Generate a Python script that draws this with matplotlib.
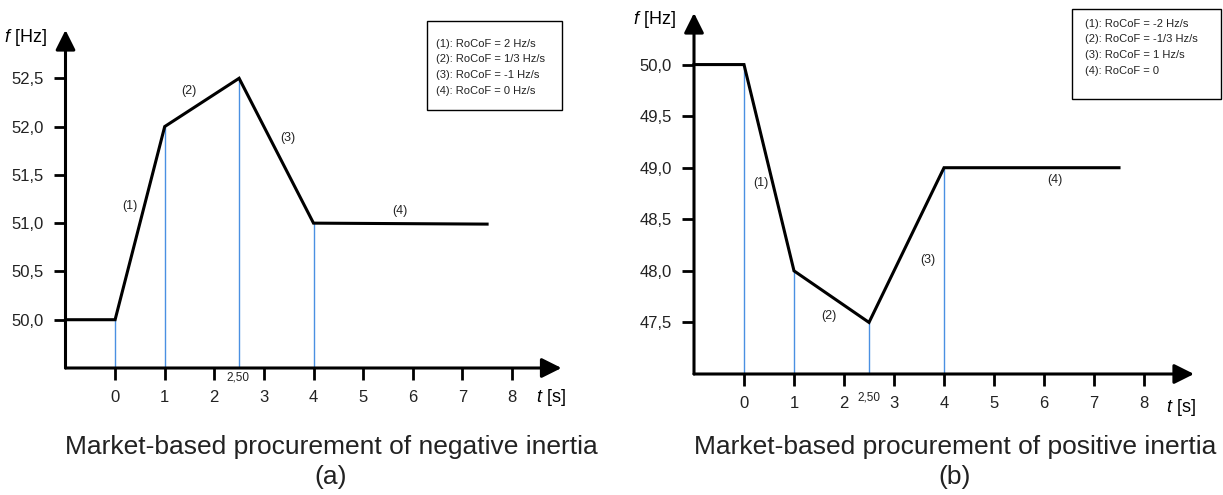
"""Frequency response under market-based inertia procurement"""

import matplotlib
matplotlib.use("Agg")
import matplotlib.pyplot as plt
import matplotlib.patches as patches

plt.rcParams['font.family'] = ['Liberation Sans', 'DejaVu Sans']
plt.rcParams['mathtext.fontset'] = 'custom'
plt.rcParams['mathtext.rm'] = 'Liberation Sans'
plt.rcParams['mathtext.it'] = 'Liberation Sans:italic'

# Frequency trajectories (t in s, f in Hz)
t_neg = [-1, 0, 1, 2.5, 4, 7.5]
f_neg = [50.0, 50.0, 52.0, 52.5, 51.0, 50.99]
t_pos = [-1, 0, 1, 2.5, 4, 7.5]
f_pos = [50.0, 50.0, 48.0, 47.5, 49.0, 49.0]

# Breakpoints marked with vertical guide lines
t_marks = [0, 1, 2.5, 4]

x_ticks = [0, 1, 2, 3, 4, 5, 6, 7, 8]
y_ticks_neg = [50.0, 50.5, 51.0, 51.5, 52.0, 52.5]
y_ticks_pos = [47.5, 48.0, 48.5, 49.0, 49.5, 50.0]

seg_labels = ['(1)', '(2)', '(3)', '(4)']
seg_pos_neg = [(0.29, 51.18), (1.48, 52.37), (3.48, 51.88), (5.74, 51.13)]
seg_pos_pos = [(0.34, 48.85), (1.70, 47.56), (3.68, 48.11), (6.22, 48.88)]

legend_neg = ['(1): RoCoF = 2 Hz/s', '(2): RoCoF = 1/3 Hz/s',
              '(3): RoCoF = -1 Hz/s', '(4): RoCoF = 0 Hz/s']
legend_pos = ['(1): RoCoF = -2 Hz/s', '(2): RoCoF = -1/3 Hz/s',
              '(3): RoCoF = 1 Hz/s', '(4): RoCoF = 0']

captions = ['Market-based procurement of negative inertia',
            'Market-based procurement of positive inertia']
sublabels = ['(a)', '(b)']

W, H = 1223, 495
fig = plt.figure(figsize=(W / 100, H / 100), dpi=100)

BLUE = '#4a90e2'


def fx(px):
    return px / W


def fy(py):
    return 1 - py / H


def draw_panel(ax, t, f, ylim, yticks, seg_pos):
    ax.set_xlim(-1, 9)
    ax.set_ylim(*ylim)
    for s in ax.spines.values():
        s.set_visible(False)

    # axes drawn as arrows
    arrow = dict(arrowstyle='-|>,head_length=0.6,head_width=0.3', color='black',
                 lw=2.2, mutation_scale=20, shrinkA=0, shrinkB=0)
    ax.annotate('', xy=(1, 0), xytext=(0, 0), xycoords='axes fraction',
                textcoords='axes fraction', arrowprops=arrow, annotation_clip=False)
    ax.annotate('', xy=(0, 1), xytext=(0, 0), xycoords='axes fraction',
                textcoords='axes fraction', arrowprops=arrow, annotation_clip=False)

    ax.set_xticks(x_ticks)
    ax.set_xticklabels([str(v) for v in x_ticks])
    ax.set_yticks(yticks)
    ax.set_yticklabels([f"{v:.1f}".replace('.', ',') for v in yticks])
    ax.tick_params(direction='out', length=8.5, width=2.0, pad=7.5,
                   labelsize=12, colors='black', labelcolor='#222222')

    # guide lines at the breakpoints
    for tm in t_marks:
        fv = f[t.index(tm)]
        ax.plot([tm, tm], [ylim[0], fv], color=BLUE, lw=1.0, zorder=2)

    ax.plot(t, f, color='black', lw=2.2, solid_joinstyle='miter', zorder=3,
            clip_on=False)

    for lab, (x, y) in zip(seg_labels, seg_pos):
        ax.text(x, y, lab, fontsize=9, ha='center', va='center', color='#222222')


ax1 = fig.add_axes([fx(65.5), fy(368), fx(496), 338 / H])
draw_panel(ax1, t_neg, f_neg, (49.5, 53.0), y_ticks_neg, seg_pos_neg)
ax1.text(2.48, 49.5 - 10 / 96.6, '2,50', fontsize=8.5, ha='center', va='center',
         color='#222222')

ax2 = fig.add_axes([fx(694), fy(374), fx(500), 361 / H])
draw_panel(ax2, t_pos, f_pos, (47.0, 50.5), y_ticks_pos, seg_pos_pos)
ax2.text(2.5, 47.0 - 23 / 103, '2,50', fontsize=8.5, ha='center', va='center',
         color='#222222')

# axis titles
fig.text(fx(47), fy(37), r'$f$ [Hz]', fontsize=13, ha='right', va='center')
fig.text(fx(676), fy(20), r'$f$ [Hz]', fontsize=13, ha='right', va='center')
fig.text(fx(536), fy(398), r'$t$ [s]', fontsize=13, ha='left', va='center')
fig.text(fx(1166), fy(408), r'$t$ [s]', fontsize=13, ha='left', va='center')

# legend boxes
for (x0, y0, x1, y1), lines, tx, ty in [((427, 21, 562, 110), legend_neg, 436, 44),
                                         ((1072, 9, 1221, 99), legend_pos, 1085, 24)]:
    fig.patches.append(patches.Rectangle((fx(x0), fy(y1)), fx(x1 - x0), (y1 - y0) / H,
                                         transform=fig.transFigure, fill=False,
                                         edgecolor='black', lw=1.0))
    for i, line in enumerate(lines):
        fig.text(fx(tx), fy(ty + 15.5 * i), line, fontsize=8, ha='left', va='center',
                 color='#222222')

# captions
for cx, cap, sub in zip([331, 955], captions, sublabels):
    fig.text(fx(cx), fy(447), cap, fontsize=19, ha='center', va='center', color='#222222')
    fig.text(fx(cx), fy(477), sub, fontsize=19, ha='center', va='center', color='#222222')

fig.savefig('out.png', dpi=100)
